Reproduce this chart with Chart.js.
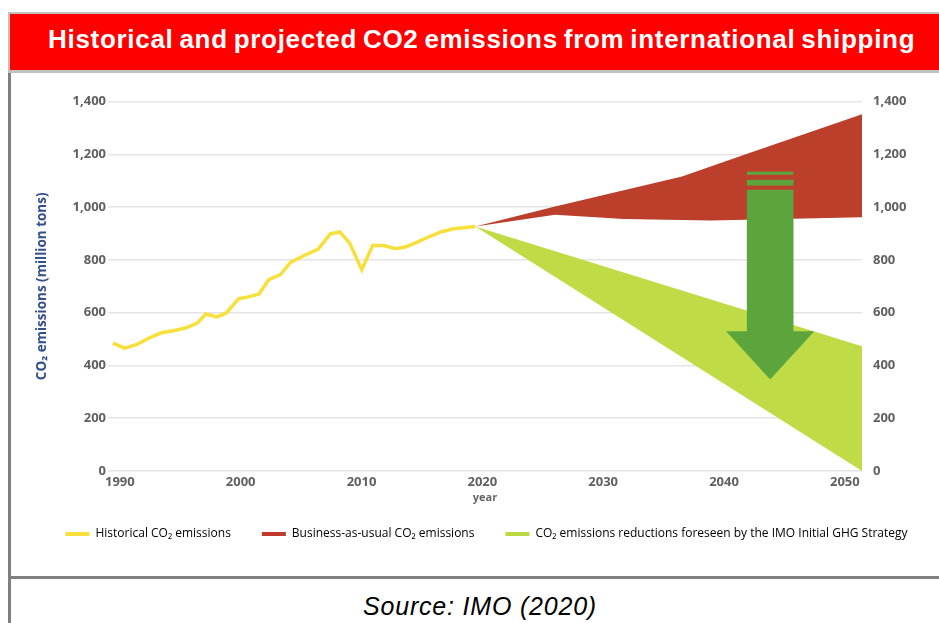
<!DOCTYPE html>
<html>
<head>
<meta charset="utf-8">
<script src="https://cdn.jsdelivr.net/npm/chart.js@4"></script>
<style>
  html, body { margin: 0; padding: 0; background: #fff; overflow: hidden; width: 939px; height: 623px; }
  #header {
    position: absolute; left: 8px; top: 12px; width: 931px; height: 61px; box-sizing: border-box;
    border-top: 2px solid #c0c0c0; border-left: 2px solid #c0c0c0; border-bottom: 3px solid #c0c0c0;
    background: #ff0000;
  }
  #header span {
    position: absolute; left: 38px; top: 0; line-height: 51px; white-space: nowrap;
    font-family: "Liberation Sans", Arial, sans-serif; font-weight: bold; font-size: 26px;
    color: #fff; letter-spacing: 0.7px; word-spacing: -2px;
  }
  #leftRule { position: absolute; left: 8px; top: 73px; width: 3px; height: 550px; background: #808080; }
  #bottomRule { position: absolute; left: 8px; top: 576px; width: 931px; height: 3px; background: #808080; }
  #source {
    position: absolute; left: 0; top: 591px; width: 960px; text-align: center; line-height: 30px;
    font-family: "Liberation Sans", Arial, sans-serif; font-style: italic; font-size: 25px;
    letter-spacing: 0.8px; color: #000;
  }
  #wrap { position: absolute; left: 12px; top: 76px; width: 949px; height: 498px; }
</style>
</head>
<body>
<div id="header"><span>Historical and projected CO2 emissions from international shipping</span></div>
<div id="leftRule"></div>
<div id="wrap"><canvas id="chart" width="949" height="498"></canvas></div>
<div id="bottomRule"></div>
<div id="source">Source: IMO (2020)</div>

<script>
(function () {
    'use strict';

    // historical emissions (million tons)
    var histYears = [1990, 1991, 1992, 1993, 1994, 1995, 1996, 1997, 1997.7, 1998.6, 1999.4, 2000.4, 2001.4, 2002.1, 2002.9,
        2003.85, 2004.7, 2005.8, 2007, 2008, 2008.8, 2009.6, 2010.6, 2011.5, 2012.4, 2013.4, 2014.2, 2015.2, 2016.1,
        2017.2, 2018.2, 2020];
    var histValues = [485, 466, 480, 504, 524, 532, 542, 561, 595, 584, 599, 653, 662, 671, 725,
        744, 791, 816, 841, 899, 906, 864, 763, 855, 855, 843, 849, 868, 887,
        907, 918, 927];

    // business-as-usual band
    var bauUpperYears = [2020, 2026.6, 2037.1, 2042.2, 2052];
    var bauUpperValues = [927, 1003, 1116, 1198, 1352];
    var bauLowerYears = [2020, 2026.6, 2032.3, 2039.5, 2052];
    var bauLowerValues = [927, 971, 955, 950, 962];

    // IMO strategy reduction band
    var imoUpperYears = [2020, 2052];
    var imoUpperValues = [927, 473];
    var imoLowerYears = [2020, 2052];
    var imoLowerValues = [927, 0];

    var xTicks = [1990, 2000, 2010, 2020, 2030, 2040, 2050];
    var yTicks = [0, 200, 400, 600, 800, 1000, 1200, 1400];

    var legendNames = ['Historical CO\u2082 emissions', 'Business-as-usual CO\u2082 emissions',
        'CO\u2082 emissions reductions foreseen by the IMO Initial GHG Strategy'];
    var legendColors = ['#f7e03c', '#c0392b', '#b9da45'];

    // the big down arrow, in axis units
    var arrow = { year: 2044.4, shaftHalf: 1.93, headHalf: 3.65, top: 1066, shaftBottom: 530, tip: 347,
        stripes: [[1135, 1123], [1104, 1082]], color: '#5ca53c' };

    function pts(xs, ys) {
        return xs.map(function (x, i) { return { x: x, y: ys[i] }; });
    }

    var tickFont = { size: 13, weight: 'bold' };
    var tickColor = '#606060';

    var arrowPlugin = {
        id: 'arrow',
        afterDatasetsDraw: function (chart) {
            var ctx = chart.ctx, xs = chart.scales.x, ys = chart.scales.y;
            var cx = xs.getPixelForValue(arrow.year);
            var sw = xs.getPixelForValue(arrow.year + arrow.shaftHalf) - cx;
            var hw = xs.getPixelForValue(arrow.year + arrow.headHalf) - cx;
            var top = ys.getPixelForValue(arrow.top), sb = ys.getPixelForValue(arrow.shaftBottom), tip = ys.getPixelForValue(arrow.tip);
            ctx.save();
            ctx.fillStyle = arrow.color;
            ctx.beginPath();
            ctx.moveTo(cx - sw, top);
            ctx.lineTo(cx + sw, top);
            ctx.lineTo(cx + sw, sb);
            ctx.lineTo(cx + hw, sb);
            ctx.lineTo(cx, tip);
            ctx.lineTo(cx - hw, sb);
            ctx.lineTo(cx - sw, sb);
            ctx.closePath();
            ctx.fill();
            arrow.stripes.forEach(function (s) {
                var a = ys.getPixelForValue(s[0]), b = ys.getPixelForValue(s[1]);
                ctx.fillRect(cx - sw, a, sw * 2, b - a);
            });
            ctx.restore();
        }
    };

    Chart.defaults.font.family = "'Open Sans', sans-serif";

    new Chart(document.getElementById('chart'), {
        type: 'line',
        data: {
            datasets: [
                { label: legendNames[0], data: pts(histYears, histValues), borderColor: '#f7e03c', borderWidth: 3.5,
                    pointRadius: 0, fill: false, tension: 0 },
                { label: legendNames[1], data: pts(bauUpperYears, bauUpperValues), borderWidth: 0, pointRadius: 0,
                    backgroundColor: '#bc3f2c', fill: '+1' },
                { label: 'bau-low', data: pts(bauLowerYears, bauLowerValues), borderWidth: 0, pointRadius: 0, fill: false },
                { label: legendNames[2], data: pts(imoUpperYears, imoUpperValues), borderWidth: 0, pointRadius: 0,
                    backgroundColor: '#bfdc47', fill: '+1' },
                { label: 'imo-low', data: pts(imoLowerYears, imoLowerValues), borderWidth: 0, pointRadius: 0, fill: false }
            ]
        },
        options: {
            responsive: false,
            animation: false,
            devicePixelRatio: 1,
            layout: { padding: { top: 25.7, bottom: 24, left: 0, right: 0 } },
            plugins: {
                tooltip: { enabled: false },
                legend: {
                    position: 'bottom',
                    labels: {
                        boxWidth: 24, boxHeight: 4, padding: 31, color: '#808080',
                        font: { size: 12 },
                        generateLabels: function () {
                            return legendNames.map(function (t, i) {
                                return { text: t, fillStyle: legendColors[i], strokeStyle: legendColors[i], lineWidth: 0, hidden: false };
                            });
                        }
                    }
                }
            },
            scales: {
                x: {
                    type: 'linear', min: 1989.6, max: 2052,
                    grid: { display: false, drawTicks: false },
                    border: { display: false },
                    afterBuildTicks: function (s) { s.ticks = xTicks.map(function (v) { return { value: v }; }); },
                    afterFit: function (s) { s.height = 26; },
                    ticks: { font: tickFont, color: tickColor, padding: 3, labelOffset: 7, maxRotation: 0,
                        callback: function (v) { return String(v); } },
                    title: { display: true, text: 'year', color: '#666', font: { size: 11, weight: 'bold' },
                        padding: { top: 0, bottom: -7 } }
                },
                y: {
                    position: 'left', min: 0, max: 1400,
                    afterBuildTicks: function (s) { s.ticks = yTicks.map(function (v) { return { value: v }; }); },
                    afterFit: function (s) { s.width = 96; },
                    grid: { color: '#e4e4e4', lineWidth: 1.5, drawTicks: false },
                    border: { display: false },
                    ticks: { font: tickFont, color: tickColor, padding: 2,
                        callback: function (v) { return v.toLocaleString('en-US'); } },
                    title: { display: true, text: 'CO\u2082 emissions (million tons)', color: '#34508c',
                        font: { size: 13.5, weight: 'bold' }, padding: { top: 22, bottom: 0 } }
                },
                y2: {
                    position: 'right', min: 0, max: 1400,
                    afterBuildTicks: function (s) { s.ticks = yTicks.map(function (v) { return { value: v }; }); },
                    afterFit: function (s) { s.width = 99; },
                    grid: { display: false, drawTicks: false },
                    border: { display: false },
                    ticks: { font: tickFont, color: tickColor, padding: 11,
                        callback: function (v) { return v.toLocaleString('en-US'); } }
                }
            }
        },
        plugins: [arrowPlugin]
    });
})();
</script>
</body>
</html>
